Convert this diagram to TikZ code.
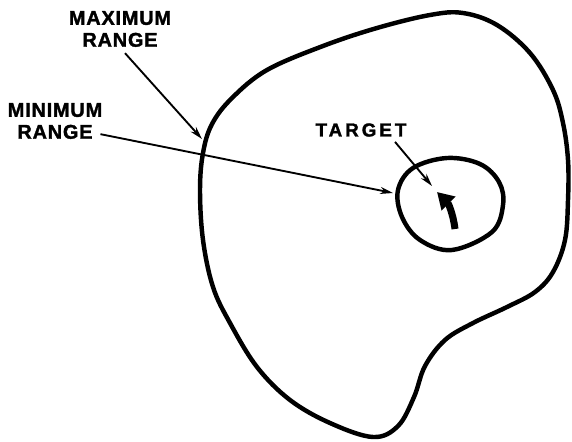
\documentclass[tikz,border=0pt]{standalone}
\usepackage{fontspec}
\setmainfont{Liberation Sans}
\usetikzlibrary{arrows.meta,calc}

\begin{document}
\begin{tikzpicture}[
  x=0.03cm, y=-0.03cm,
  lbl/.style={inner sep=0pt, align=center,
              font=\fontsize{17}{18.7}\selectfont\bfseries\addfontfeature{LetterSpace=4,FakeBold=1.6}},
  ptr/.style={line width=1.6pt, -{Stealth[length=11pt,width=6pt]}},
  rng/.style={line width=3.8pt, line join=round},
  >=Stealth
]
  \useasboundingbox (0,0) rectangle (572,441);

  % maximum range boundary
  \draw[rng] plot[smooth cycle, tension=0.6] coordinates {
    (203,153) (212,124) (232,98) (267,70) (323,46) (377,28) (430,15) (463,13)
    (497,25) (530,53) (553,90) (563,123) (568,160) (568,200) (565,240) (553,272)
    (535,292) (507,307) (473,323) (445,340) (425,366) (414,397) (398,426) (373,437)
    (330,423) (290,400) (257,367) (230,323) (213,287) (203,240) (200,190)};

  % minimum range boundary
  \draw[rng] plot[smooth cycle, tension=0.6] coordinates {
    (398,190) (413,168) (447,158) (480,164) (499,182) (503,205) (492,232)
    (452,250) (420,240) (402,217)};

  \coordinate (maxpt) at (202,139);
  \coordinate (minpt) at (393,193);
  \coordinate (tgtpt) at (432,186);
  \coordinate (tgttail) at (455,229);
  \coordinate (tgthead) at (437,192);

  \node[lbl] (maxlbl) at (120,29)  {MAXIMUM\\RANGE};
  \node[lbl] (minlbl) at (55,121)  {MINIMUM\\RANGE};
  \node[lbl, font=\fontsize{16}{18}\selectfont\bfseries\addfontfeature{LetterSpace=16,FakeBold=1.6}]
        (tgtlbl) at (361,130) {TARGET};

  \draw[ptr] ($(maxlbl.south)+(5,6)$) -- (maxpt);
  \draw[ptr] ($(minlbl.south east)+(-2,-5)$) -- (minpt);
  \draw[ptr] ($(tgtlbl.south)+(34,5)$) -- (tgtpt);

  % target
  \draw[line width=6pt, -{Triangle[length=14pt,width=16pt]}]
      (tgttail) .. controls (453,213) and (448,203) .. (tgthead);
\end{tikzpicture}
\end{document}
